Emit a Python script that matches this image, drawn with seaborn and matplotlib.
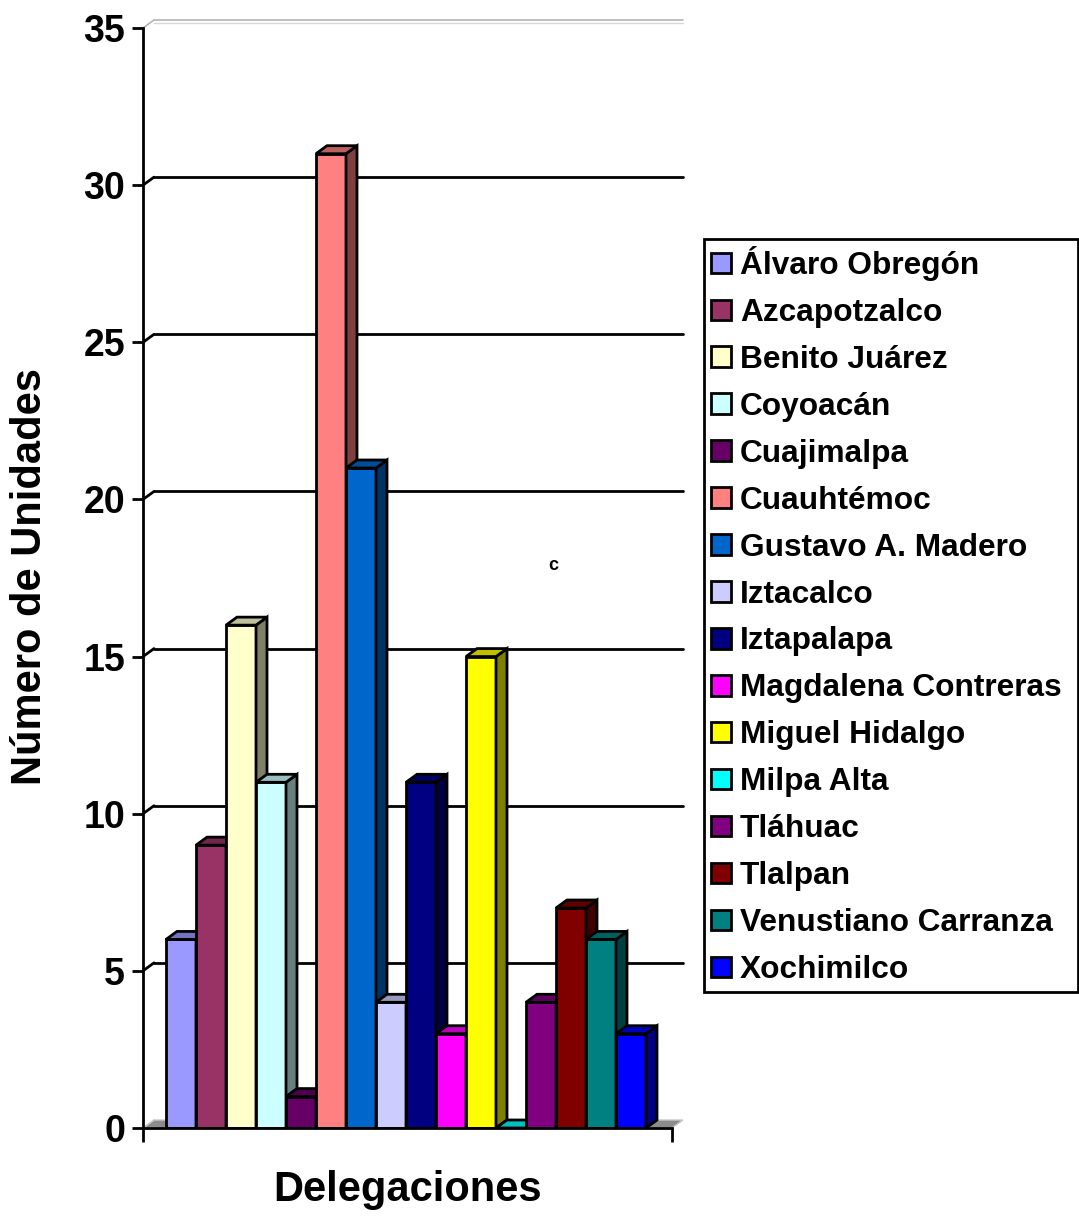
import numpy as np
import pandas as pd
import matplotlib
matplotlib.use("Agg")
import matplotlib.pyplot as plt
from matplotlib.patches import Polygon, Patch
from matplotlib.lines import Line2D
import matplotlib.colors as mcolors
import seaborn as sns

# --- data -------------------------------------------------------------------
delegaciones = [
    "Álvaro Obregón", "Azcapotzalco", "Benito Juárez", "Coyoacán",
    "Cuajimalpa", "Cuauhtémoc", "Gustavo A. Madero", "Iztacalco",
    "Iztapalapa", "Magdalena Contreras", "Miguel Hidalgo", "Milpa Alta",
    "Tláhuac", "Tlalpan", "Venustiano Carranza", "Xochimilco",
]
unidades = [6, 9, 16, 11, 1, 31, 21, 4, 11, 3, 15, 0, 4, 7, 6, 3]
colores = [
    "#9999FF", "#993366", "#FFFFCC", "#CCFFFF", "#660066", "#FF8080",
    "#0066CC", "#CCCCFF", "#000080", "#FF00FF", "#FFFF00", "#00FFFF",
    "#800080", "#800000", "#008080", "#0000FF",
]
y_ticks = [0, 5, 10, 15, 20, 25, 30, 35]

df = pd.DataFrame({"delegacion": delegaciones, "unidades": unidades})

# --- figure -----------------------------------------------------------------
sns.set_style("white")
plt.rcParams["font.family"] = ["Liberation Sans", "DejaVu Sans"]
plt.rcParams["font.weight"] = "bold"
for key in ("text.color", "axes.labelcolor", "xtick.color", "ytick.color"):
    plt.rcParams[key] = "black"

W, H, DPI = 1079, 1216, 100
fig = plt.figure(figsize=(W / DPI, H / DPI), dpi=DPI)
ax_left, ax_right, ax_bottom, ax_top = 143, 672, 1128, 28
ax = fig.add_axes([ax_left / W, 1 - ax_bottom / H,
                   (ax_right - ax_left) / W, (ax_bottom - ax_top) / H])

sns.barplot(data=df, x="delegacion", y="unidades", hue="delegacion",
            palette=colores, saturation=1, width=1.0, edgecolor="black",
            linewidth=2, legend=False, ax=ax, zorder=3)

# x range chosen so that bars sit inside the floor with a margin at each end
xlo, xhi = -0.5 - 23 / 30, len(delegaciones) - 0.5 + 26 / 30
ax.set_xlim(xlo, xhi)
ax.set_ylim(0, 35)

# oblique depth offset (in pixels) converted to data units
DEPTH_PX = (11, 8)
ddx = DEPTH_PX[0] * (xhi - xlo) / (ax_right - ax_left)
ddy = DEPTH_PX[1] * 35 / (ax_bottom - ax_top)

# floor slab
floor = Polygon([(xlo, 0), (xhi, 0), (xhi + ddx, ddy), (xlo + ddx, ddy)],
                closed=True, facecolor="#8c8c8c", edgecolor="#c8c8c8",
                linewidth=1, zorder=1, clip_on=False)
ax.add_patch(floor)

# back-wall gridlines and side-wall diagonals
for v in y_ticks[1:]:
    col = "#b4b4b4" if v == 35 else "black"
    lw = 1.2 if v == 35 else 2
    ax.add_line(Line2D([xlo + ddx, xhi + ddx], [v + ddy, v + ddy], color=col,
                       lw=lw, zorder=1.5, clip_on=False))
    ax.add_line(Line2D([xlo, xlo + ddx], [v, v + ddy], color=col, lw=lw,
                       zorder=1.5, clip_on=False))
    if v == 35:
        ax.add_line(Line2D([xlo + ddx, xhi + ddx], [v + ddy * 0.6, v + ddy * 0.6],
                           color="#d8d8d8", lw=1, zorder=1.5, clip_on=False))
ax.add_line(Line2D([xlo, xlo + ddx], [0, ddy], color="#c8c8c8", lw=1,
                   zorder=1.6, clip_on=False))


def shade(c, f):
    r, g, b = mcolors.to_rgb(c)
    return (r * f, g * f, b * f)


# top and right faces for each bar, layered left to right
bars = [p for cont in ax.containers for p in cont]
bars.sort(key=lambda p: p.get_x())
for i, bar in enumerate(bars):
    z = 3 + i * 0.1
    bar.set_zorder(z)
    x0 = bar.get_x()
    x1 = x0 + bar.get_width()
    h = bar.get_height()
    fc = bar.get_facecolor()
    side = Polygon([(x1, 0), (x1 + ddx, ddy), (x1 + ddx, h + ddy), (x1, h)],
                   closed=True, facecolor=shade(fc, 0.5), edgecolor="black",
                   linewidth=2, zorder=z, joinstyle="miter")
    top = Polygon([(x0, h), (x1, h), (x1 + ddx, h + ddy), (x0 + ddx, h + ddy)],
                  closed=True, facecolor=shade(fc, 0.75), edgecolor="black",
                  linewidth=2, zorder=z + 0.01, joinstyle="miter")
    if h > 0:
        ax.add_patch(side)
    ax.add_patch(top)

# axes styling
sns.despine(ax=ax, top=True, right=True)
for s in ("left", "bottom"):
    ax.spines[s].set_linewidth(2)
    ax.spines[s].set_color("black")
    ax.spines[s].set_zorder(10)
ax.set_yticks(y_ticks)
ax.set_yticklabels([str(t) for t in y_ticks], fontsize=27, fontweight="bold")
ax.tick_params(axis="y", direction="out", length=8, width=2, pad=5, left=True)
ax.set_xticks([xlo, xhi])
ax.set_xticklabels([])
ax.tick_params(axis="x", direction="out", length=10, width=2, bottom=True)
ax.set_xlabel("")
ax.set_ylabel("")
ax.grid(False)

fig.text(30 / W, 1 - 577 / H, "Número de Unidades", rotation=90,
         fontsize=30, fontweight="bold", ha="center", va="center")
fig.text(408 / W, 1 - 1190 / H, "Delegaciones", fontsize=30,
         fontweight="bold", ha="center", va="center")
fig.text(553 / W, 1 - 565 / H, "c", fontsize=13, fontweight="bold",
         ha="center", va="center")

# legend
handles = [Patch(facecolor=c, edgecolor="black", linewidth=2) for c in colores]
leg = fig.legend(handles, delegaciones, loc="upper left",
                 bbox_to_anchor=(704 / W, 1 - 239 / H - 0.01, (1078 - 704) / W, 0.01),
                 mode="expand", frameon=True, fancybox=False, framealpha=1,
                 edgecolor="black", handlelength=0.62,
                 handleheight=0.62, handletextpad=0.3, labelspacing=0.535,
                 borderpad=0.22, borderaxespad=0,
                 prop={"weight": "bold", "size": 22.8})
leg.get_frame().set_linewidth(2)

fig.savefig("out.png", dpi=DPI)
